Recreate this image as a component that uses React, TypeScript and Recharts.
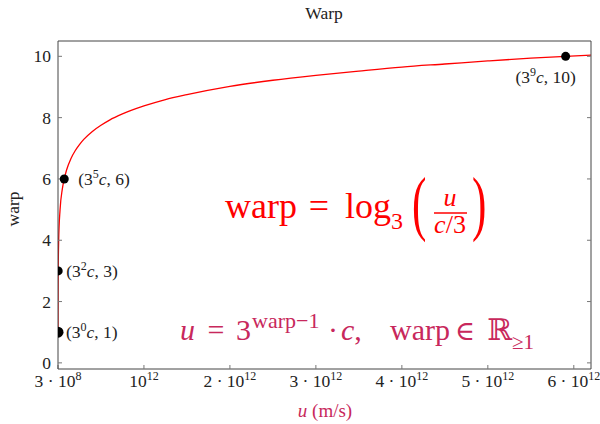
import { ComposedChart, Line, Scatter, XAxis, YAxis } from 'recharts'

// curve: speed u (m/s) and warp
const CURVE_U = [
  3e8, 6e8, 1.2e9, 2.7e9, 8.1e9, 2.43e10, 5e10, 7.29e10, 1e11, 1.5e11, 2e11, 2.5e11, 3e11, 4e11, 5e11, 6e11,
  7.5e11, 1e12, 1.25e12, 1.5e12, 2e12, 2.5e12, 3e12, 3.5e12, 4e12, 4.5e12, 5e12, 5.5e12, 5.905e12, 6.2e12,
]
const CURVE_WARP = [
  1, 1.63, 2.26, 3, 4, 5, 5.66, 6, 6.29, 6.66, 6.92, 7.12, 7.29, 7.55, 7.75, 7.92,
  8.12, 8.38, 8.59, 8.75, 9.02, 9.22, 9.38, 9.52, 9.65, 9.75, 9.85, 9.94, 10, 10.04,
]

// marked points (3^k c, warp)
const POINT_U = [3e8, 2.7e9, 7.29e10, 5.905e12]
const POINT_WARP = [1, 3, 6, 10]
const POINT_EXP = [0, 2, 5, 9]

const X_TICKS = [3e8, 1e12, 2e12, 3e12, 4e12, 5e12, 6e12]
const Y_TICKS = [0, 2, 4, 6, 8, 10]
const X_DOMAIN = [3e8, 6.2e12]
const Y_DOMAIN = [-0.2, 10.5]

const FONT = '"Liberation Serif", "DejaVu Serif", serif'
const CRIMSON = '#c8285c'
const AXIS = '#444'
const FS = 17.5

const curveData = CURVE_U.map((u, i) => ({ u, warp: CURVE_WARP[i] }))
const pointData = POINT_U.map((u, i) => ({ u, warp: POINT_WARP[i], exp: POINT_EXP[i] }))

function XTick({ x, y, payload }: any) {
  const v = payload.value as number
  const exp = Math.floor(Math.log10(v) + 1e-9)
  const mant = Math.round(v / 10 ** exp)
  return (
    <text x={x} y={y + 18} textAnchor="middle" fontFamily={FONT} fontSize={FS} fill="#222">
      {mant !== 1 && <tspan>{`${mant} · `}</tspan>}
      <tspan>10</tspan>
      <tspan dy={-7} fontSize={12}>{exp}</tspan>
    </text>
  )
}

function YTick({ x, y, payload }: any) {
  return (
    <text x={x} y={y + 6} textAnchor="end" fontFamily={FONT} fontSize={FS} fill="#222">
      {payload.value}
    </text>
  )
}

function PointShape({ cx, cy, payload, index }: any) {
  const last = index === POINT_U.length - 1
  const dx = last ? -20 : index === 2 ? 14 : 8
  const dy = last ? 27 : 6
  return (
    <g>
      <circle cx={cx} cy={cy} r={index === 0 ? 5.5 : 4.5} fill="#000" />
      <text
        x={cx + dx}
        y={cy + dy}
        textAnchor={last ? 'middle' : 'start'}
        fontFamily={FONT}
        fontSize={FS}
        fill="#222"
      >
        <tspan>(3</tspan>
        <tspan dy={-7} fontSize={12}>{payload.exp}</tspan>
        <tspan dy={7} fontStyle="italic">c</tspan>
        <tspan>{`, ${payload.warp})`}</tspan>
      </text>
    </g>
  )
}

export default function App() {
  return (
    <div style={{ position: 'absolute', left: 0, top: 0, width: 600, height: 424, background: '#fff' }}>
      <ComposedChart width={600} height={424} data={curveData} margin={{ top: 40, right: 8, bottom: 0, left: 0 }}>
        <XAxis
          dataKey="u"
          type="number"
          domain={X_DOMAIN}
          ticks={X_TICKS}
          allowDataOverflow
          height={55}
          interval={0}
          tickSize={-4}
          tickMargin={4}
          stroke={AXIS}
          tickLine={{ stroke: '#777' }}
          tick={<XTick />}
        />
        <XAxis
          xAxisId="top"
          orientation="top"
          type="number"
          domain={X_DOMAIN}
          ticks={X_TICKS}
          allowDataOverflow
          height={1}
          interval={0}
          tickSize={-4}
          stroke={AXIS}
          tickLine={{ stroke: '#777' }}
          tick={() => <g />}
        />
        <YAxis
          type="number"
          domain={Y_DOMAIN}
          ticks={Y_TICKS}
          allowDataOverflow
          width={58}
          interval={0}
          tickSize={-4}
          tickMargin={11}
          stroke={AXIS}
          tickLine={{ stroke: '#777' }}
          tick={<YTick />}
        />
        <YAxis
          yAxisId="right"
          orientation="right"
          type="number"
          domain={Y_DOMAIN}
          ticks={Y_TICKS}
          allowDataOverflow
          width={1}
          interval={0}
          tickSize={-4}
          stroke={AXIS}
          tickLine={{ stroke: '#777' }}
          tick={() => <g />}
        />
        <Line
          dataKey="warp"
          type="monotone"
          stroke="#ff0000"
          strokeWidth={1.3}
          dot={false}
          activeDot={false}
          isAnimationActive={false}
        />
        <Scatter data={pointData} dataKey="warp" shape={<PointShape />} isAnimationActive={false} />
      </ComposedChart>

      <svg
        width={600}
        height={424}
        style={{ position: 'absolute', left: 0, top: 0, pointerEvents: 'none' }}
        fontFamily={FONT}
      >
        <text x={324} y={19} textAnchor="middle" fontSize={FS} fill="#222">Warp</text>
        <text transform="translate(19,209) rotate(-90)" textAnchor="middle" fontSize={FS} fill="#222">warp</text>
        <text x={325} y={417} textAnchor="middle" fontSize={19} fill={CRIMSON}>
          <tspan fontStyle="italic">u</tspan>
          <tspan> (m/s)</tspan>
        </text>

        {/* warp = log3(u / (c/3)) */}
        <g fill="#ff0000">
          <text x={225} y={218} fontSize={36}>warp</text>
          <text x={319} y={218} fontSize={36} textAnchor="middle">=</text>
          <text x={345} y={218} fontSize={36}>log</text>
          <text x={391} y={229} fontSize={24}>3</text>
          <text transform="translate(412,227) scale(0.6,1)" fontSize={72}>(</text>
          <text x={450} y={206} fontSize={26} fontStyle="italic" textAnchor="middle">u</text>
          <line x1={434} x2={467} y1={213} y2={213} stroke="#ff0000" strokeWidth={1.3} />
          <text x={450} y={233} fontSize={26} textAnchor="middle">
            <tspan fontStyle="italic">c</tspan>
            <tspan>/3</tspan>
          </text>
          <text transform="translate(472,227) scale(0.6,1)" fontSize={72}>)</text>
        </g>

        {/* u = 3^(warp-1) · c,  warp ∈ R≥1 */}
        <g fill={CRIMSON}>
          <text x={180} y={340} fontSize={30} fontStyle="italic">u</text>
          <text x={216} y={340} fontSize={30} textAnchor="middle">=</text>
          <text x={236} y={340} fontSize={30}>3</text>
          <text x={252} y={328} fontSize={22}>warp−1</text>
          <text x={333} y={340} fontSize={30} textAnchor="middle">·</text>
          <text x={341} y={340} fontSize={30}>
            <tspan fontStyle="italic">c</tspan>
            <tspan>,</tspan>
          </text>
          <text x={390} y={340} fontSize={30}>warp</text>
          <text x={465} y={340} fontSize={27} textAnchor="middle">∈</text>
          <text x={487} y={340} fontSize={30}>ℝ</text>
          <text x={512} y={349} fontSize={21}>≥1</text>
        </g>
      </svg>
    </div>
  )
}
